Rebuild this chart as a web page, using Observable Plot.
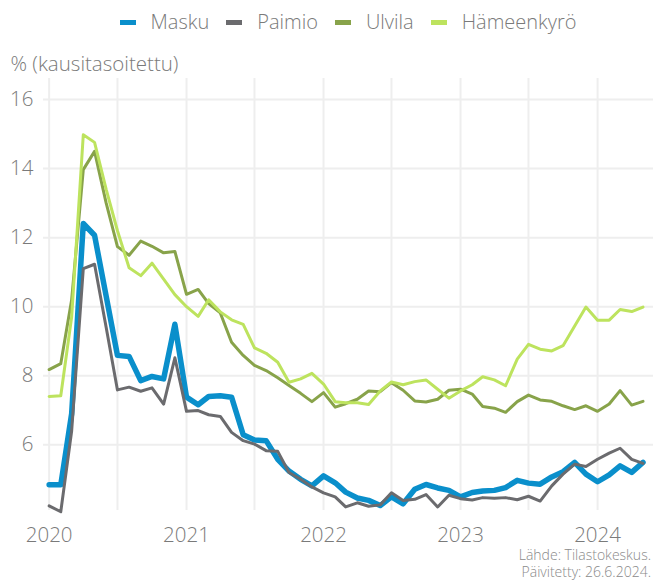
<!DOCTYPE html>
<html>
<head>
<meta charset="utf-8">
<script src="https://cdn.jsdelivr.net/npm/d3@7"></script>
<script src="https://cdn.jsdelivr.net/npm/@observablehq/plot@0.6"></script>
<style>
  body { margin: 0; background: #fff; }
  #wrap { position: relative; width: 653px; height: 580px; font-family: "Open Sans", Lato, sans-serif; font-weight: 300; color: #7a7a7a; }
  #legend { position: absolute; top: 8px; left: 43px; width: 610px; display: flex; justify-content: center; align-items: center; font-size: 20px; line-height: 28px; }
  .item { display: flex; align-items: center; margin: 0 8.5px; }
  .sw { width: 16px; height: 5px; margin-right: 15px; }
  #chart { position: absolute; top: 40px; left: 0; }
  #caption { position: absolute; right: 2px; top: 547px; text-align: right; font-size: 14px; line-height: 16.5px; color: #8a8a8a; }
</style>
</head>
<body>
<div id="wrap">
  <div id="legend"></div>
  <div id="chart"></div>
  <div id="caption">Lähde: Tilastokeskus.<br>Päivitetty: 26.6.2024.</div>
</div>
<script>
const series = ["Masku", "Paimio", "Ulvila", "Hämeenkyrö"];
const colors = ["#0a8fcb", "#6b6b6e", "#88a34a", "#bde35e"];
const widths = [5.5, 3, 3, 3];

// monthly values Jan 2020 – May 2024
const masku = [
  4.84, 4.84, 6.9, 12.41, 12.07, 10.3, 8.59, 8.56, 7.86, 7.98, 7.91, 9.49,
  7.38, 7.16, 7.4, 7.42, 7.38, 6.29, 6.14, 6.12, 5.58, 5.24, 5.0, 4.81,
  5.1, 4.9, 4.63, 4.46, 4.39, 4.24, 4.49, 4.29, 4.71, 4.85, 4.75, 4.68,
  4.49, 4.62, 4.66, 4.68, 4.76, 4.97, 4.89, 4.86, 5.07, 5.22, 5.49, 5.15,
  4.93, 5.13, 5.39, 5.2, 5.49
];
const paimio = [
  4.23, 4.06, 6.4, 11.1, 11.23, 9.4, 7.59, 7.67, 7.55, 7.65, 7.18, 8.52,
  6.97, 6.99, 6.87, 6.82, 6.36, 6.12, 6.02, 5.83, 5.81, 5.2, 5.0, 4.78,
  4.61, 4.49, 4.2, 4.32, 4.22, 4.26, 4.61, 4.39, 4.42, 4.56, 4.2, 4.54,
  4.44, 4.4, 4.47, 4.45, 4.47, 4.41, 4.51, 4.37, 4.81, 5.15, 5.44, 5.37,
  5.58, 5.76, 5.9, 5.58, 5.46
];
const ulvila = [
  8.18, 8.35, 10.2, 13.97, 14.5, 13.0, 11.74, 11.49, 11.9, 11.75, 11.56, 11.6,
  10.36, 10.5, 10.09, 9.82, 8.97, 8.59, 8.3, 8.15, 7.94, 7.72, 7.49, 7.25,
  7.51, 7.09, 7.19, 7.32, 7.56, 7.54, 7.8, 7.58, 7.27, 7.24, 7.32, 7.58,
  7.61, 7.47, 7.11, 7.06, 6.94, 7.25, 7.44, 7.3, 7.26, 7.13, 7.02, 7.13,
  6.97, 7.18, 7.57, 7.15, 7.26
];
const hameenkyro = [
  7.4, 7.42, 9.7, 14.98, 14.76, 13.4, 12.2, 11.13, 10.9, 11.26, 10.8, 10.35,
  10.0, 9.72, 10.2, 9.85, 9.62, 9.49, 8.81, 8.65, 8.39, 7.81, 7.91, 8.07,
  7.76, 7.25, 7.22, 7.22, 7.17, 7.56, 7.82, 7.74, 7.83, 7.88, 7.61, 7.35,
  7.56, 7.74, 7.97, 7.88, 7.71, 8.48, 8.91, 8.77, 8.72, 8.87, 9.44, 9.99,
  9.61, 9.61, 9.92, 9.86, 9.99
];
const yearLabels = ["2020", "2021", "2022", "2023", "2024"];
const yTicks = [6, 8, 10, 12, 14, 16];
const yTitle = "% (kausitasoitettu)";

const values = [masku, paimio, ulvila, hameenkyro];
const months = d3.utcMonth.range(new Date(Date.UTC(2020, 0, 1)), new Date(Date.UTC(2024, 5, 1)));
const data = [];
series.forEach((s, i) => values[i].forEach((v, j) => data.push({kunta: s, date: months[j], value: v})));
const yearDates = yearLabels.map(y => new Date(Date.UTC(+y, 0, 1)));
const gridDates = d3.utcMonth.every(6).range(new Date(Date.UTC(2020, 0, 1)), new Date(Date.UTC(2024, 1, 1)));

const font = '"Open Sans", Lato, sans-serif';
const chart = Plot.plot({
  width: 653,
  height: 510,
  marginTop: 38,
  marginBottom: 40,
  marginLeft: 43,
  marginRight: 0,
  style: {fontFamily: font, fontWeight: 300, color: "#7a7a7a", background: "transparent", overflow: "visible"},
  x: {type: "utc", domain: [new Date(Date.UTC(2019, 11, 17)), new Date(Date.UTC(2024, 4, 29))]},
  y: {domain: [4.097, 16.61]},
  color: {domain: series, range: colors},
  marks: [
    Plot.gridX(gridDates, {stroke: "#eeeeee", strokeOpacity: 1, strokeWidth: 2}),
    Plot.gridY(yTicks, {stroke: "#eeeeee", strokeOpacity: 1, strokeWidth: 2}),
    Plot.axisX(yearDates, {tickSize: 0, tickPadding: 17, tickFormat: d3.utcFormat("%Y"), fontSize: 20.5, label: null}),
    Plot.axisY(yTicks, {tickSize: 0, tickPadding: 10, fontSize: 20.5, label: null}),
    ...series.map((s, i) => Plot.line(data.filter(d => d.kunta === s), {
      x: "date", y: "value", stroke: colors[i], strokeWidth: widths[i], strokeLinejoin: "round"
    })),
    Plot.text([yTitle], {frameAnchor: "top-left", text: d => d, dx: -33, dy: -8, lineAnchor: "bottom", textAnchor: "start", fontSize: 20.5, fill: "#7a7a7a"})
  ]
});
document.getElementById("chart").append(chart);

const legend = document.getElementById("legend");
series.forEach((s, i) => {
  const it = document.createElement("div");
  it.className = "item";
  const sw = document.createElement("span");
  sw.className = "sw";
  sw.style.background = colors[i];
  const t = document.createElement("span");
  t.textContent = s;
  it.append(sw, t);
  legend.append(it);
});
</script>
</body>
</html>
